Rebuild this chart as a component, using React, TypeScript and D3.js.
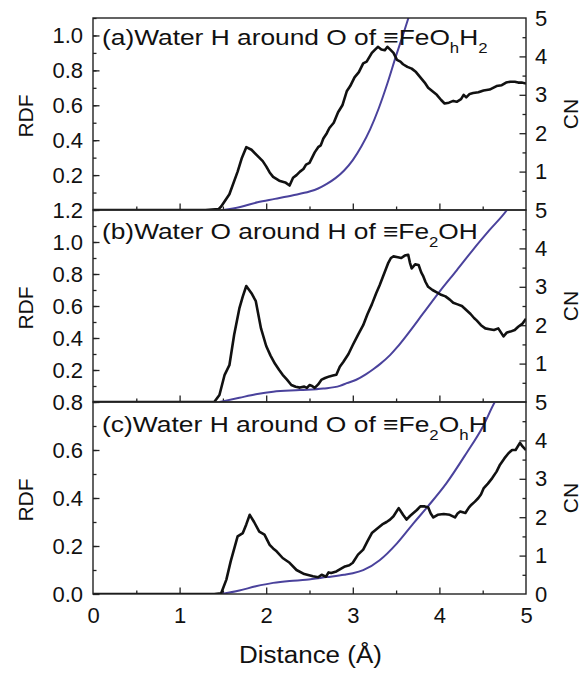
import React, { useEffect, useRef } from 'react'
import * as d3 from 'd3'

// distance (Å), RDF / CN
const rdfA: [number, number][] = [
  [0, 0], [1.3, 0], [1.45, 0.005], [1.48, 0.02], [1.575, 0.09], [1.67, 0.22], [1.72, 0.3], [1.77, 0.36],
  [1.83, 0.345], [1.92, 0.3], [1.96, 0.28], [2.0, 0.25], [2.04, 0.215], [2.08, 0.19], [2.15, 0.168],
  [2.22, 0.158], [2.27, 0.14], [2.31, 0.185], [2.35, 0.2], [2.39, 0.22], [2.43, 0.235], [2.46, 0.26],
  [2.5, 0.27], [2.56, 0.33], [2.6, 0.36], [2.63, 0.37], [2.66, 0.41], [2.7, 0.44], [2.73, 0.47],
  [2.78, 0.5], [2.83, 0.56], [2.88, 0.6], [2.93, 0.68], [2.97, 0.71], [3.02, 0.76], [3.07, 0.79],
  [3.12, 0.84], [3.16, 0.85], [3.22, 0.9], [3.26, 0.92], [3.29, 0.935], [3.33, 0.92], [3.37, 0.915],
  [3.4, 0.935], [3.43, 0.92], [3.47, 0.9], [3.51, 0.86], [3.55, 0.85], [3.58, 0.835], [3.63, 0.82],
  [3.68, 0.81], [3.73, 0.79], [3.78, 0.76], [3.83, 0.73], [3.87, 0.7], [3.92, 0.68], [3.97, 0.66],
  [4.02, 0.63], [4.06, 0.61], [4.11, 0.615], [4.16, 0.625], [4.2, 0.62], [4.25, 0.635], [4.28, 0.66],
  [4.31, 0.645], [4.35, 0.665], [4.39, 0.67], [4.45, 0.675], [4.51, 0.685], [4.58, 0.69], [4.66, 0.71],
  [4.72, 0.715], [4.77, 0.73], [4.82, 0.735], [4.87, 0.735], [4.91, 0.73], [4.95, 0.73], [5.0, 0.725],
]
const cnA: [number, number][] = [
  [1.5, 0], [1.7, 0.08], [1.9, 0.2], [2.1, 0.29], [2.3, 0.38], [2.5, 0.48], [2.6, 0.56], [2.7, 0.68],
  [2.8, 0.83], [2.9, 1.03], [3.0, 1.3], [3.1, 1.66], [3.2, 2.1], [3.3, 2.65], [3.4, 3.3], [3.5, 4.02],
  [3.6, 4.7], [3.67, 5.2],
]

const rdfB: [number, number][] = [
  [0, 0], [1.4, 0], [1.46, 0.044], [1.52, 0.17], [1.575, 0.23], [1.63, 0.42], [1.69, 0.585], [1.73, 0.66],
  [1.77, 0.725], [1.83, 0.68], [1.88, 0.63], [1.94, 0.46], [2.0, 0.35], [2.05, 0.29], [2.1, 0.24],
  [2.15, 0.2], [2.19, 0.17], [2.24, 0.14], [2.29, 0.106], [2.34, 0.095], [2.39, 0.09], [2.44, 0.096],
  [2.47, 0.088], [2.5, 0.106], [2.53, 0.1], [2.56, 0.088], [2.6, 0.11], [2.64, 0.14], [2.68, 0.15],
  [2.73, 0.16], [2.77, 0.165], [2.81, 0.17], [2.85, 0.22], [2.89, 0.25], [2.95, 0.3], [3.0, 0.356],
  [3.06, 0.42], [3.12, 0.48], [3.17, 0.55], [3.22, 0.61], [3.27, 0.68], [3.31, 0.73], [3.36, 0.8],
  [3.41, 0.87], [3.44, 0.9], [3.47, 0.91], [3.52, 0.905], [3.56, 0.9], [3.6, 0.915], [3.64, 0.92],
  [3.66, 0.87], [3.68, 0.835], [3.72, 0.86], [3.76, 0.856], [3.79, 0.81], [3.81, 0.79], [3.84, 0.75],
  [3.87, 0.72], [3.92, 0.7], [3.97, 0.685], [4.02, 0.67], [4.07, 0.66], [4.12, 0.64], [4.16, 0.62],
  [4.21, 0.61], [4.26, 0.6], [4.31, 0.575], [4.36, 0.55], [4.4, 0.525], [4.43, 0.51], [4.48, 0.48],
  [4.53, 0.46], [4.58, 0.455], [4.63, 0.45], [4.68, 0.46], [4.74, 0.41], [4.78, 0.435], [4.82, 0.44],
  [4.87, 0.45], [4.91, 0.47], [4.96, 0.49], [5.0, 0.52],
]
const cnB: [number, number][] = [
  [1.46, 0], [1.69, 0.11], [1.88, 0.2], [2.08, 0.27], [2.39, 0.31], [2.66, 0.35], [2.85, 0.42],
  [2.93, 0.49], [3.04, 0.58], [3.15, 0.72], [3.24, 0.86], [3.31, 0.98], [3.43, 1.22], [3.51, 1.42],
  [3.62, 1.73], [3.81, 2.3], [4.0, 2.87], [4.2, 3.43], [4.39, 3.97], [4.58, 4.48], [4.78, 5.0], [4.84, 5.2],
]

const rdfC: [number, number][] = [
  [0, 0], [1.4, 0], [1.48, 0.003], [1.54, 0.06], [1.59, 0.136], [1.67, 0.24], [1.73, 0.254], [1.77, 0.29],
  [1.81, 0.33], [1.86, 0.3], [1.92, 0.26], [1.98, 0.247], [2.04, 0.205], [2.08, 0.19], [2.12, 0.178],
  [2.19, 0.15], [2.27, 0.13], [2.35, 0.1], [2.44, 0.083], [2.54, 0.074], [2.6, 0.07], [2.64, 0.08],
  [2.69, 0.072], [2.72, 0.09], [2.75, 0.0875], [2.81, 0.094], [2.86, 0.105], [2.91, 0.115], [2.96, 0.12],
  [3.0, 0.13], [3.06, 0.164], [3.12, 0.185], [3.17, 0.22], [3.22, 0.254], [3.29, 0.275], [3.34, 0.29],
  [3.39, 0.3], [3.43, 0.31], [3.47, 0.324], [3.53, 0.358], [3.58, 0.33], [3.62, 0.31], [3.66, 0.325],
  [3.7, 0.3375], [3.74, 0.35], [3.78, 0.365], [3.83, 0.365], [3.87, 0.361], [3.9, 0.335], [3.93, 0.319],
  [3.98, 0.33], [4.05, 0.333], [4.12, 0.33], [4.18, 0.319], [4.21, 0.335], [4.24, 0.344], [4.3, 0.3375],
  [4.34, 0.36], [4.37, 0.372], [4.41, 0.385], [4.45, 0.4], [4.48, 0.415], [4.51, 0.44], [4.56, 0.46],
  [4.61, 0.483], [4.66, 0.51], [4.7, 0.539], [4.75, 0.565], [4.8, 0.5875], [4.84, 0.6], [4.88, 0.6],
  [4.93, 0.63], [4.96, 0.615], [5.0, 0.6],
]
const cnC: [number, number][] = [
  [1.48, 0], [1.69, 0.09], [1.88, 0.2], [2.08, 0.29], [2.27, 0.34], [2.46, 0.37], [2.7, 0.44], [2.9, 0.5],
  [3.0, 0.54], [3.12, 0.62], [3.31, 0.88], [3.51, 1.32], [3.7, 1.84], [3.87, 2.29], [4.08, 2.88],
  [4.31, 3.66], [4.5, 4.35], [4.64, 5.0], [4.68, 5.15],
]

const xTicks = [0, 1, 2, 3, 4, 5]
const rdfTicksA = [0.2, 0.4, 0.6, 0.8, 1.0]
const rdfTicksB = [0.2, 0.4, 0.6, 0.8, 1.0, 1.2]
const rdfTicksC = [0.0, 0.2, 0.4, 0.6, 0.8]
const cnTicksAB = [1, 2, 3, 4, 5]
const cnTicksC = [0, 1, 2, 3, 4, 5]

const FONT = '"Liberation Sans", Arial, Helvetica, sans-serif'
const BLUE = '#4a429c'
const INK = '#111'

const panels = [
  {
    id: 'a', top: 18, rdfMax: 1.1, rdf: rdfA, cn: cnA, rdfTicks: rdfTicksA, cnTicks: cnTicksAB,
    titleY: 45, titleEnd: 488,
    title: [['(a)Water H around O of \u2261FeO', 0], ['h', 1], ['H', 0], ['2', 1]],
  },
  {
    id: 'b', top: 210, rdfMax: 1.2, rdf: rdfB, cn: cnB, rdfTicks: rdfTicksB, cnTicks: cnTicksAB,
    titleY: 239, titleEnd: 478,
    title: [['(b)Water O around H of \u2261Fe', 0], ['2', 1], ['OH', 0]],
  },
  {
    id: 'c', top: 402, rdfMax: 0.8, rdf: rdfC, cn: cnC, rdfTicks: rdfTicksC, cnTicks: cnTicksC,
    titleY: 432, titleEnd: 488,
    title: [['(c)Water H around O of \u2261Fe', 0], ['2', 1], ['O', 0], ['h', 1], ['H', 0]],
  },
]

// squeeze/stretch a text horizontally about its start so it spans the width seen in the figure
function fitWidth(sel: d3.Selection<SVGTextElement, unknown, null, undefined>, x0: number, width: number) {
  const w = (sel.node() as SVGTextElement).getBBox().width
  if (w > 0) sel.attr('transform', `translate(${x0},0) scale(${width / w},1) translate(${-x0},0)`)
}

export default function App() {
  const node = useRef<SVGSVGElement>(null)

  useEffect(() => {
    const svg = d3.select(node.current)
    svg.selectAll('*').remove()

    const left = 93, right = 526, ph = 192
    const x = d3.scaleLinear().domain([0, 5]).range([left, right])

    panels.forEach((p, idx) => {
      const bottom = p.top + ph
      const y = d3.scaleLinear().domain([0, p.rdfMax]).range([bottom, p.top])
      const y2 = d3.scaleLinear().domain([0, 5]).range([bottom, p.top])
      const g = svg.append('g')

      const clipId = 'clip-' + p.id
      g.append('clipPath').attr('id', clipId)
        .append('rect').attr('x', left).attr('y', p.top).attr('width', right - left).attr('height', ph)

      // left RDF axis, ticks inward
      const minorL = d3.range(1, Math.round(p.rdfMax * 10) + 1).map(v => v / 10)
      g.append('g').attr('transform', `translate(${left},0)`)
        .call(d3.axisLeft(y).tickValues(minorL).tickSize(-3.5).tickFormat(() => ''))
      const la = g.append('g').attr('transform', `translate(${left},0)`)
        .call(d3.axisLeft(y).tickValues(p.rdfTicks).tickSize(-6.5).tickPadding(10).tickFormat(d3.format('.1f')))

      // right CN axis, ticks inward
      g.append('g').attr('transform', `translate(${right},0)`)
        .call(d3.axisRight(y2).tickValues(d3.range(0.5, 5, 1)).tickSize(-3.5).tickFormat(() => ''))
      const ra = g.append('g').attr('transform', `translate(${right},0)`)
        .call(d3.axisRight(y2).tickValues(d3.range(1, 5)).tickSize(-6.5).tickFormat(() => ''))
      const rl = g.append('g').attr('transform', `translate(${right},0)`)
        .call(d3.axisRight(y2).tickValues(p.cnTicks).tickSize(0).tickPadding(9).tickFormat(d3.format('d')))

      // bottom distance axis, ticks inward
      g.append('g').attr('transform', `translate(0,${bottom})`)
        .call(d3.axisBottom(x).tickValues(d3.range(0.5, 5, 1)).tickSize(-3.5).tickFormat(() => ''))
      const ba = g.append('g').attr('transform', `translate(0,${bottom})`)
        .call(d3.axisBottom(x).tickValues(d3.range(1, 5)).tickSize(-6.5).tickFormat(() => ''))
      if (idx === panels.length - 1) {
        g.append('g').attr('transform', `translate(0,${bottom})`)
          .call(d3.axisBottom(x).tickValues(xTicks).tickSize(0).tickPadding(13).tickFormat(d3.format('d')))
          .call(a => a.select('.domain').remove())
          .selectAll('text').attr('font-size', 22).attr('font-family', FONT).attr('fill', INK)
      }

      g.selectAll('.domain').remove()
      g.selectAll('.tick line').attr('stroke', '#222').attr('stroke-width', 1.3)
      la.selectAll('text').attr('font-size', 22).attr('font-family', FONT).attr('fill', INK)
      rl.selectAll('text').attr('font-size', 22).attr('font-family', FONT).attr('fill', INK)
      ra.selectAll('text').remove()
      ba.selectAll('text').remove()

      g.append('path').attr('clip-path', `url(#${clipId})`)
        .attr('d', d3.line<[number, number]>().x(d => x(d[0])).y(d => y2(d[1])).curve(d3.curveMonotoneX)(p.cn))
        .attr('fill', 'none').attr('stroke', BLUE).attr('stroke-width', 2)
      g.append('path').attr('clip-path', `url(#${clipId})`)
        .attr('d', d3.line<[number, number]>().x(d => x(d[0])).y(d => y(d[1]))(p.rdf))
        .attr('fill', 'none').attr('stroke', INK).attr('stroke-width', 2.6).attr('stroke-linejoin', 'round')

      // frame
      g.append('rect').attr('x', left).attr('y', p.top).attr('width', right - left).attr('height', ph)
        .attr('fill', 'none').attr('stroke', '#222').attr('stroke-width', 1.4)

      // panel title with subscripts
      const t = g.append('text').attr('x', 102).attr('y', p.titleY)
        .attr('font-family', FONT).attr('font-size', 22).attr('fill', INK)
      p.title.forEach(([s, sub], i) => {
        const prev = i > 0 ? p.title[i - 1][1] : 0
        t.append('tspan').text(s as string)
          .attr('font-size', sub ? 14 : 22)
          .attr('dy', sub && !prev ? 8 : !sub && prev ? -8 : 0)
      })
      fitWidth(t, 102, p.titleEnd - 102)

      const mid = (p.top + bottom) / 2
      g.append('text').attr('transform', `translate(33,${mid + 2}) rotate(-90)`).attr('text-anchor', 'middle')
        .attr('font-family', FONT).attr('font-size', 21).attr('fill', INK).text('RDF')
      g.append('text').attr('transform', `translate(578,${mid}) rotate(-90)`).attr('text-anchor', 'middle')
        .attr('font-family', FONT).attr('font-size', 21).attr('fill', INK).text('CN')
    })

    const xl = svg.append('text').attr('x', 239).attr('y', 663)
      .attr('font-family', FONT).attr('font-size', 23).attr('fill', INK).text('Distance (Å)')
    fitWidth(xl, 239, 143)
  }, [])

  return (
    <svg ref={node} width={581} height={673}
      style={{ position: 'absolute', left: 0, top: 0, background: '#fff' }} />
  )
}
